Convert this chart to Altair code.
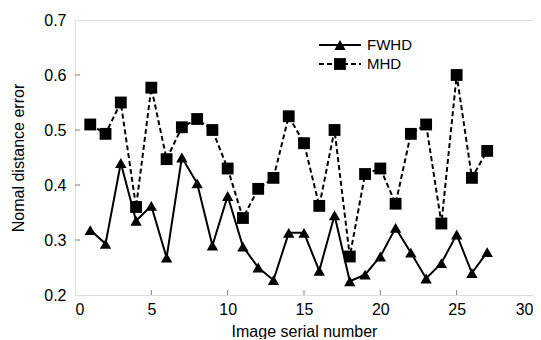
import altair as alt
import pandas as pd

serial = list(range(1, 28))
fwhd = [0.318, 0.293, 0.440, 0.335, 0.362, 0.268, 0.450, 0.403, 0.290, 0.380,
        0.288, 0.250, 0.227, 0.313, 0.313, 0.244, 0.345, 0.225, 0.237, 0.270,
        0.322, 0.277, 0.230, 0.258, 0.310, 0.240, 0.278]
mhd = [0.510, 0.493, 0.550, 0.360, 0.577, 0.447, 0.505, 0.520, 0.500, 0.430,
       0.340, 0.393, 0.413, 0.525, 0.476, 0.362, 0.500, 0.270, 0.420, 0.430,
       0.366, 0.493, 0.510, 0.330, 0.600, 0.413, 0.462]
x_ticks = [0, 5, 10, 15, 20, 25, 30]
y_ticks = [0.2, 0.3, 0.4, 0.5, 0.6, 0.7]
series_names = ["FWHD", "MHD"]

FONT = "Liberation Sans"
W, H = 458, 275

df = pd.DataFrame({"serial": serial, "FWHD": fwhd, "MHD": mhd})

xs = alt.Scale(domain=[0, 30], nice=False)
ys = alt.Scale(domain=[0.2, 0.7], nice=False)

xax = alt.Axis(values=x_ticks, title="Image serial number", grid=False, domain=False,
               ticks=False, labelPadding=6, labelFontSize=16, titleFontSize=16,
               titleFontWeight="normal", labelColor="black", titleColor="black",
               titleFont=FONT, labelFont=FONT, titlePadding=6)
yax = alt.Axis(values=y_ticks, title="Nomal distance error", grid=False, domain=False,
               ticks=False, labelPadding=9, labelFontSize=16, titleFontSize=16,
               titleFontWeight="normal", labelColor="black", titleColor="black",
               titleFont=FONT, labelFont=FONT, format=".1f", titlePadding=17)

base = alt.Chart(df)

f_line = base.mark_line(color="black", strokeWidth=2).encode(
    x=alt.X("serial:Q", scale=xs, axis=xax), y=alt.Y("FWHD:Q", scale=ys, axis=yax))
f_pts = base.mark_point(shape="triangle-up", filled=True, color="black", size=130, opacity=1).encode(
    x=alt.X("serial:Q", scale=xs), y=alt.Y("FWHD:Q", scale=ys))
m_line = base.mark_line(color="black", strokeWidth=2, strokeDash=[5, 3]).encode(
    x=alt.X("serial:Q", scale=xs), y=alt.Y("MHD:Q", scale=ys))
m_pts = base.mark_point(shape="square", filled=True, color="black", size=140, opacity=1).encode(
    x=alt.X("serial:Q", scale=xs), y=alt.Y("MHD:Q", scale=ys))

# inward ticks
xt = alt.Chart(pd.DataFrame({"t": x_ticks[1:-1]})).mark_rule(color="#808080").encode(
    x=alt.X("t:Q", scale=xs), y=alt.value(H), y2=alt.value(H - 5))
yt = alt.Chart(pd.DataFrame({"t": y_ticks[1:-1]})).mark_rule(color="#808080").encode(
    y=alt.Y("t:Q", scale=ys), x=alt.value(0), x2=alt.value(5))

# legend
leg = pd.DataFrame({"name": series_names, "row": [0, 1]})
ly = {0: 43 - 18, 1: 62 - 18}
lx0, lx1 = 320 - 76, 362 - 76
leg_f = alt.Chart(leg[leg.row == 0])
leg_m = alt.Chart(leg[leg.row == 1])
l1 = leg_f.mark_rule(color="black", strokeWidth=2).encode(
    x=alt.value(lx0), x2=alt.value(lx1), y=alt.value(ly[0]))
l1p = leg_f.mark_point(shape="triangle-up", filled=True, color="black", size=130, opacity=1).encode(
    x=alt.value((lx0 + lx1) / 2), y=alt.value(ly[0]))
l1t = leg_f.mark_text(align="left", baseline="middle", font=FONT, fontSize=15, color="black").encode(
    x=alt.value(lx1 + 6), y=alt.value(ly[0]), text="name:N")
l2 = leg_m.mark_rule(color="black", strokeWidth=2, strokeDash=[5, 3]).encode(
    x=alt.value(lx0), x2=alt.value(lx1), y=alt.value(ly[1]))
l2p = leg_m.mark_point(shape="square", filled=True, color="black", size=140, opacity=1).encode(
    x=alt.value((lx0 + lx1) / 2), y=alt.value(ly[1]))
l2t = leg_m.mark_text(align="left", baseline="middle", font=FONT, fontSize=15, color="black").encode(
    x=alt.value(lx1 + 6), y=alt.value(ly[1]), text="name:N")

chart = alt.layer(f_line, m_line, f_pts, m_pts, xt, yt, l1, l2, l1p, l2p, l1t, l2t).properties(
    width=W, height=H, padding={"left": 2, "top": 4, "right": 0, "bottom": 0}
).configure_view(stroke="#808080", strokeWidth=1.5).configure(background="white")

chart.save("out.html", embed_options={"renderer": "svg", "actions": False})
